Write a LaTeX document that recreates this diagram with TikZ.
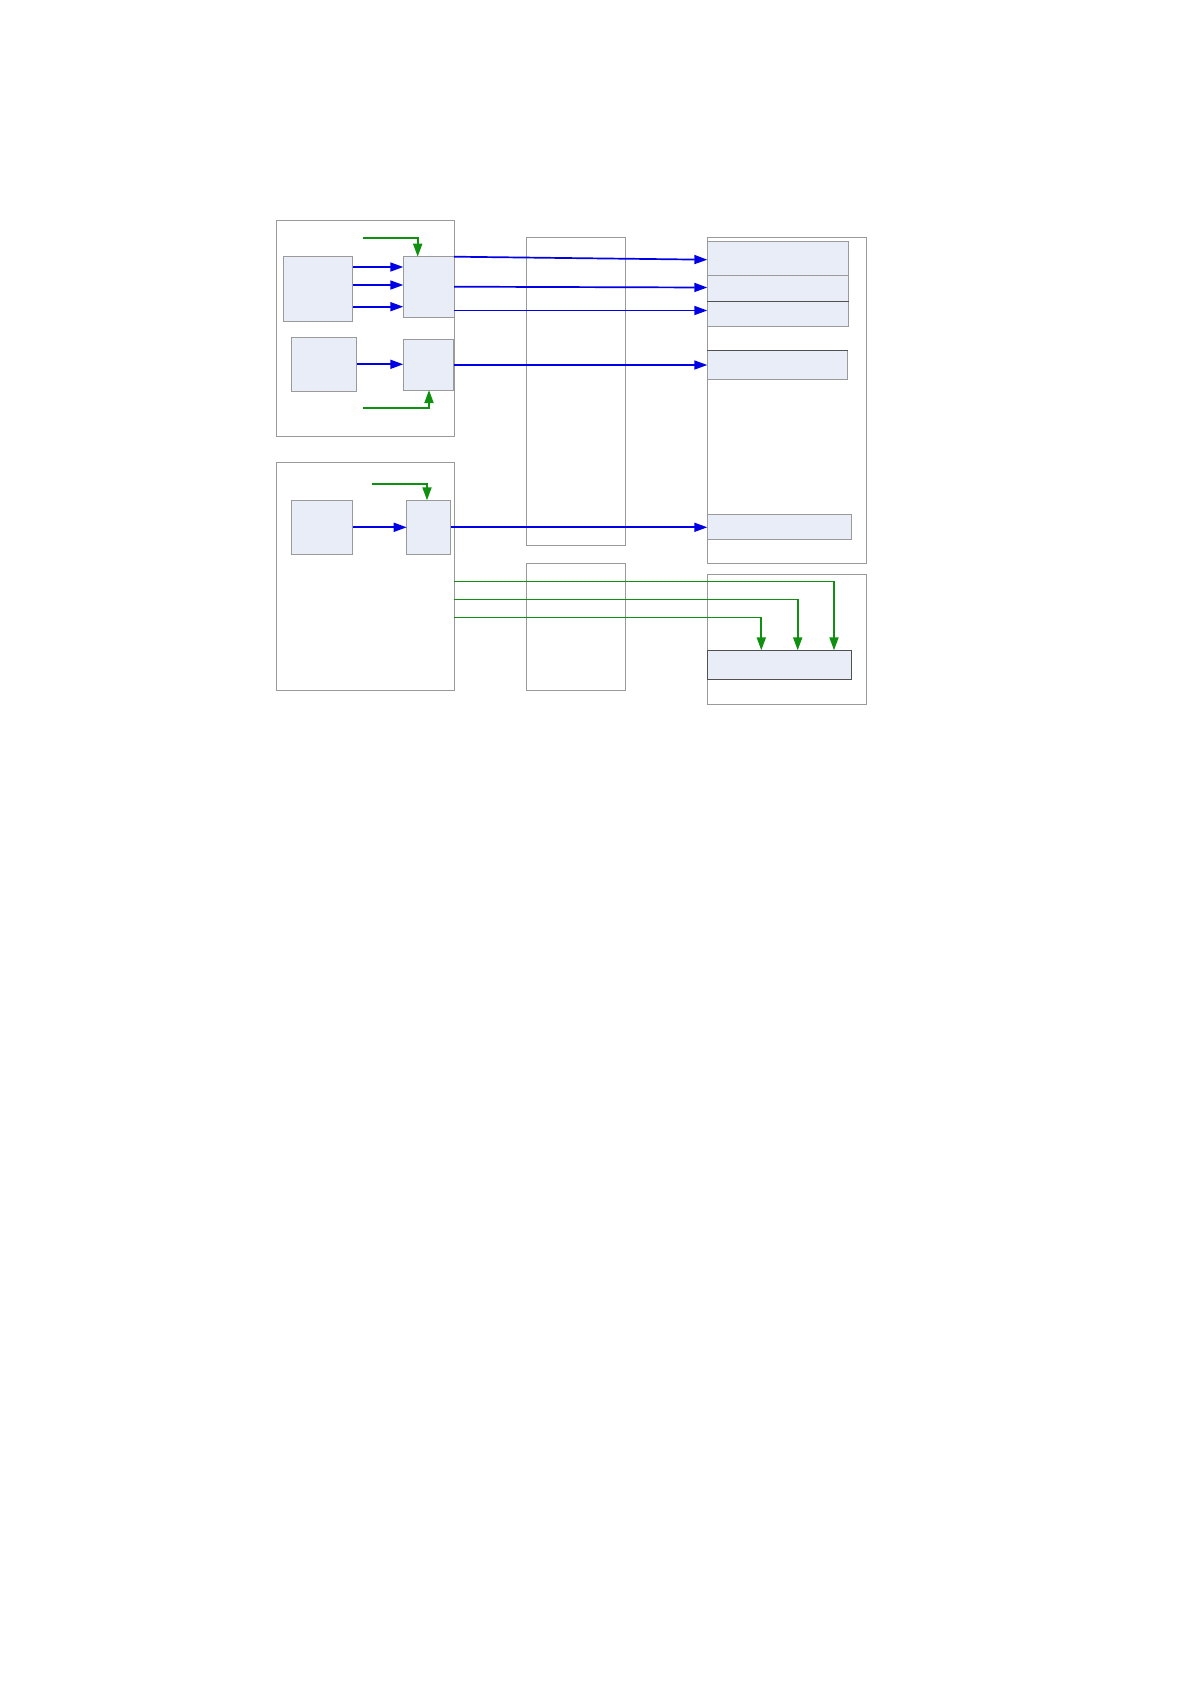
\documentclass[tikz,border=0pt]{standalone}
\usetikzlibrary{arrows.meta}
\definecolor{boxfill}{HTML}{E8EDF7}
\definecolor{boxline}{HTML}{9A9A9A}
\definecolor{darkline}{HTML}{505050}
\definecolor{arrblue}{HTML}{0000E6}
\definecolor{arrgreen}{HTML}{109010}
\tikzset{
  frame/.style={draw=boxline,line width=0.9pt,fill=none,rectangle,inner sep=0pt,outer sep=0pt,anchor=north west},
  blk/.style={draw=boxline,line width=0.9pt,fill=boxfill,rectangle,inner sep=0pt,outer sep=0pt,anchor=north west},
  bluearr/.style={draw=arrblue,line width=1.7pt,-{Triangle[length=13pt,width=9pt]}},
  greenarr/.style={draw=arrgreen,line width=1.8pt,-{Triangle[length=13pt,width=9pt]}},
}
\begin{document}
\begin{tikzpicture}[x=1pt,y=-1pt]
\useasboundingbox[fill=white] (0,0) rectangle (1190,1684);
% left frames
\node[frame,minimum width=177.6pt,minimum height=216.7pt] (L1) at (276.7,220) {};
\node[frame,minimum width=177.6pt,minimum height=227.3pt] (L2) at (276.7,462.7) {};
% middle frames
\node[frame,minimum width=99pt,minimum height=307.3pt] (M1) at (526.7,237.7) {};
\node[frame,minimum width=99pt,minimum height=127pt] (M2) at (526.7,563.3) {};
% right frames
\node[frame,minimum width=159pt,minimum height=325.3pt] (R1) at (707.3,237.7) {};
\node[frame,minimum width=159pt,minimum height=130pt] (R2) at (707.3,574.3) {};
% left blocks
\node[blk,minimum width=69.4pt,minimum height=64.3pt] (A) at (283.3,256.7) {};
\node[blk,minimum width=50.7pt,minimum height=60.6pt] (B) at (403.3,256.7) {};
\node[blk,minimum width=65.7pt,minimum height=54pt] (C) at (291,337.3) {};
\node[blk,minimum width=50.4pt,minimum height=50.7pt] (D) at (403.3,339.3) {};
\node[blk,minimum width=61.7pt,minimum height=54pt] (E) at (291,500.3) {};
\node[blk,minimum width=44pt,minimum height=54pt] (F) at (406.7,500.3) {};
% right rows
\node[blk,minimum width=141.4pt,minimum height=33.6pt] (R1a) at (707.3,241.7) {};
\node[blk,minimum width=141.4pt,minimum height=26pt] (R1b) at (707.3,275.3) {};
\node[blk,minimum width=141.4pt,minimum height=25pt] (R1c) at (707.3,301.3) {};
\draw[darkline,line width=0.9pt] (R1c.north west) -- (R1c.north east);
\node[blk,minimum width=140.4pt,minimum height=29pt] (R1d) at (707.3,350.3) {};
\draw[darkline,line width=0.9pt] (R1d.north west) -- (R1d.north east);
\node[blk,minimum width=144.4pt,minimum height=25.4pt] (R1e) at (707.3,514.3) {};
\node[blk,minimum width=144.4pt,minimum height=29pt,draw=darkline] (R2a) at (707.3,650.3) {};
% green control inputs
\coordinate (g1) at (363.3,237.7);
\coordinate (g2) at (363.3,408.3);
\coordinate (g3) at (372.3,483.7);
\draw[greenarr] (g1) -| (B.north -| 417.7,0);
\draw[greenarr] (g2) -| (D.south -| 429,0);
\draw[greenarr] (g3) -| (F.north -| 427,0);
% blue arrows inside left
\draw[bluearr] (A.east |- 0,267) -- (B.west |- 0,267);
\draw[bluearr] (A.east |- 0,285) -- (B.west |- 0,285);
\draw[bluearr] (A.east |- 0,306.7) -- (B.west |- 0,306.7);
\draw[bluearr] (C.east |- 0,364.3) -- (D.west |- 0,364.3);
\draw[bluearr] (E.east |- 0,527.3) -- (F.west |- 0,527.3);
% blue arrows to right
\draw[bluearr] (B.east |- 0,256.7) -- (R1a.west |- 0,259.7);
\draw[bluearr] (B.east |- 0,286.7) -- (R1b.west |- 0,287.5);
\draw[bluearr] (B.east |- 0,310.5) -- (R1c.west |- 0,310.5);
\draw[bluearr] (D.east |- 0,365) -- (R1d.west |- 0,365);
\draw[bluearr] (F.east |- 0,527.3) -- (R1e.west |- 0,527.3);
% green buses
\draw[greenarr] (L2.east |- 0,581.5) -| (R2a.north -| 834,0);
\draw[greenarr] (L2.east |- 0,599.5) -| (R2a.north -| 797.7,0);
\draw[greenarr] (L2.east |- 0,617.5) -| (R2a.north -| 761.3,0);
\end{tikzpicture}
\end{document}
